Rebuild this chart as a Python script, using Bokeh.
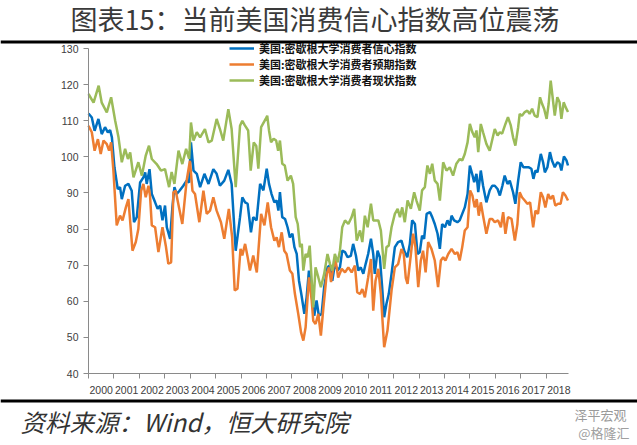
from bokeh.plotting import figure
from bokeh.models import (Range1d, FixedTicker, Label, Span, Legend,
                          LegendItem, PrintfTickFormatter)
from bokeh.embed import file_html
from bokeh.resources import INLINE

# ---------------- data (fractional year, index value) ----------------
sent_t = [2000.00, 2000.13, 2000.24, 2000.39, 2000.52, 2000.65, 2000.76, 2000.85, 2000.92,
          2001.02, 2001.15, 2001.24, 2001.31, 2001.44, 2001.57, 2001.70, 2001.79, 2001.90,
          2002.03, 2002.16, 2002.23, 2002.29, 2002.40, 2002.49, 2002.62, 2002.72, 2002.82, 2002.91,
          2003.01, 2003.08, 2003.21, 2003.30, 2003.38, 2003.47, 2003.58, 2003.73, 2003.86, 2003.96,
          2004.03, 2004.13, 2004.26, 2004.39, 2004.56, 2004.72, 2004.91,
          2005.04, 2005.17, 2005.34, 2005.50, 2005.63, 2005.79, 2005.96,
          2006.05, 2006.16, 2006.26, 2006.39, 2006.48, 2006.61, 2006.75, 2006.88,
          2007.01, 2007.10, 2007.20, 2007.31, 2007.40, 2007.47, 2007.53, 2007.62, 2007.73, 2007.83, 2007.92,
          2008.02, 2008.10, 2008.19, 2008.28, 2008.38, 2008.49, 2008.58, 2008.67, 2008.78, 2008.88, 2008.97,
          2009.06, 2009.17, 2009.27, 2009.40, 2009.49, 2009.59, 2009.69, 2009.80, 2009.89, 2009.98,
          2010.09, 2010.19, 2010.32, 2010.41, 2010.52, 2010.61, 2010.71, 2010.81, 2010.90,
          2011.00, 2011.11, 2011.20, 2011.26, 2011.37, 2011.46, 2011.55, 2011.63, 2011.72, 2011.81, 2011.92,
          2012.05, 2012.18, 2012.31, 2012.42, 2012.54, 2012.64, 2012.73, 2012.84, 2012.94,
          2013.03, 2013.12, 2013.20, 2013.30, 2013.43, 2013.52, 2013.62, 2013.73, 2013.82, 2013.91,
          2014.02, 2014.12, 2014.21, 2014.28, 2014.38, 2014.51, 2014.60, 2014.70, 2014.80, 2014.91,
          2015.00, 2015.09, 2015.17, 2015.26, 2015.33, 2015.43, 2015.52, 2015.65, 2015.78, 2015.88, 2015.98,
          2016.09, 2016.18, 2016.28, 2016.37, 2016.48, 2016.57, 2016.70, 2016.79, 2016.90,
          2017.00, 2017.11, 2017.21, 2017.32, 2017.42, 2017.50, 2017.58, 2017.66, 2017.79, 2017.88, 2017.95,
          2018.05, 2018.15, 2018.23, 2018.34, 2018.44, 2018.53, 2018.60, 2018.70, 2018.80, 2018.86]
sent_v = [112.0, 110.9, 107.2, 110.5, 106.3, 108.2, 106.8, 107.4, 105.4,
          97.1, 91.1, 91.6, 88.3, 92.0, 92.5, 90.6, 81.9, 83.3,
          92.9, 94.3, 95.7, 92.5, 96.6, 89.7, 87.4, 85.6, 86.5, 82.4,
          86.5, 80.5, 77.3, 86.0, 91.6, 89.7, 90.6, 92.0, 93.4, 92.9,
          104.0, 96.2, 95.3, 91.6, 95.3, 92.5, 96.6,
          95.3, 92.0, 93.4, 96.4, 92.5, 74.0, 83.3,
          88.8, 87.4, 87.0, 79.1, 83.3, 82.4, 92.5, 90.7,
          96.7, 92.5, 89.7, 87.4, 87.9, 85.1, 90.2, 83.3, 82.8, 80.5, 77.7,
          78.7, 75.0, 73.1, 65.7, 61.6, 56.5, 61.1, 68.5, 63.4, 56.0, 60.2,
          56.0, 56.5, 63.9, 69.4, 69.9, 65.7, 70.3, 68.5, 69.4, 74.0,
          73.6, 72.2, 72.6, 75.9, 72.6, 68.5, 69.4, 67.6, 70.3,
          73.1, 77.3, 73.1, 67.6, 74.0, 72.2, 63.9, 55.6, 59.3, 62.0, 67.6,
          75.0, 76.4, 76.8, 74.0, 72.2, 75.9, 82.4, 81.4, 73.1,
          73.6, 78.2, 77.3, 84.2, 84.7, 83.3, 81.4, 78.7, 74.5, 81.4,
          80.5, 82.4, 81.0, 83.7, 82.4, 81.9, 82.4, 84.2, 86.0, 89.7,
          97.6, 95.3, 93.0, 95.3, 90.2, 96.2, 92.0, 87.4, 90.7, 92.0, 92.0,
          91.1, 89.3, 92.0, 94.8, 92.5, 93.4, 90.2, 87.0, 93.4,
          98.5, 97.1, 97.1, 97.1, 96.7, 93.9, 96.2, 95.7, 100.8, 98.5, 95.7,
          97.1, 101.3, 99.0, 97.1, 98.5, 98.1, 96.2, 100.1, 99.0, 97.6]

expt_t = [2000.00, 2000.13, 2000.24, 2000.37, 2000.48, 2000.59, 2000.72, 2000.81, 2000.89, 2000.98,
          2001.11, 2001.24, 2001.34, 2001.47, 2001.57, 2001.73, 2001.86, 2001.96,
          2002.07, 2002.16, 2002.25, 2002.36, 2002.42, 2002.49, 2002.62, 2002.75, 2002.91,
          2003.04, 2003.14, 2003.25, 2003.34, 2003.43, 2003.56, 2003.69, 2003.86, 2003.99,
          2004.09, 2004.19, 2004.36, 2004.52, 2004.65, 2004.78, 2004.91,
          2005.04, 2005.21, 2005.34, 2005.52, 2005.65, 2005.75, 2005.86, 2005.98,
          2006.05, 2006.16, 2006.26, 2006.35, 2006.48, 2006.62, 2006.79, 2006.92,
          2007.05, 2007.18, 2007.31, 2007.40, 2007.49, 2007.60, 2007.70, 2007.79, 2007.92,
          2008.02, 2008.12, 2008.25, 2008.36, 2008.45, 2008.54, 2008.67, 2008.78, 2008.84, 2008.93,
          2009.04, 2009.14, 2009.24, 2009.37, 2009.46, 2009.54, 2009.63, 2009.72, 2009.82, 2009.96,
          2010.09, 2010.22, 2010.35, 2010.48, 2010.57, 2010.68, 2010.77, 2010.87,
          2011.00, 2011.11, 2011.20, 2011.29, 2011.40, 2011.50, 2011.63, 2011.76, 2011.92,
          2012.05, 2012.18, 2012.31, 2012.40, 2012.48, 2012.55, 2012.64, 2012.77, 2012.86, 2012.97,
          2013.07, 2013.16, 2013.26, 2013.36, 2013.49, 2013.62, 2013.75, 2013.86, 2013.95,
          2014.04, 2014.15, 2014.28, 2014.41, 2014.51, 2014.60, 2014.70, 2014.80, 2014.91,
          2015.01, 2015.10, 2015.19, 2015.27, 2015.35, 2015.43, 2015.52, 2015.65, 2015.78, 2015.88, 2015.98,
          2016.11, 2016.22, 2016.31, 2016.40, 2016.50, 2016.64, 2016.77, 2016.87, 2016.96,
          2017.05, 2017.16, 2017.26, 2017.37, 2017.49, 2017.58, 2017.68, 2017.79, 2017.88, 2017.97,
          2018.08, 2018.17, 2018.27, 2018.36, 2018.47, 2018.57, 2018.66, 2018.76, 2018.86]
expt_v = [108.6, 106.8, 101.7, 104.9, 100.8, 104.5, 103.5, 101.7, 104.0, 96.2,
          81.0, 83.7, 82.4, 86.0, 88.3, 74.0, 76.4, 80.0,
          90.6, 92.5, 88.8, 92.0, 89.2, 81.0, 80.5, 73.6, 80.5,
          75.4, 70.4, 70.8, 90.2, 90.6, 86.0, 81.4, 93.4, 98.9,
          90.6, 89.7, 81.9, 90.6, 84.2, 85.1, 88.8,
          85.1, 81.9, 77.3, 85.6, 77.8, 63.0, 63.5, 74.5,
          72.7, 75.9, 72.2, 68.5, 72.7, 68.0, 84.2, 81.0,
          87.4, 80.5, 76.8, 77.7, 75.0, 79.1, 74.0, 73.1, 68.5,
          67.6, 62.0, 56.5, 51.4, 49.1, 52.8, 66.6, 60.2, 54.6, 53.7,
          56.5, 50.5, 58.3, 67.6, 69.4, 65.3, 69.4, 71.3, 66.6, 69.0,
          68.0, 69.4, 68.0, 69.9, 62.5, 62.0, 63.4, 61.1,
          66.6, 71.7, 57.4, 65.7, 69.0, 62.0, 47.3, 51.9, 63.0,
          69.4, 70.3, 74.5, 73.1, 66.5, 64.8, 70.4, 78.7, 75.0, 63.9,
          71.3, 74.0, 68.0, 76.4, 74.5, 71.3, 63.9, 71.3, 72.2,
          71.3, 73.1, 74.5, 73.1, 73.6, 71.3, 75.0, 79.6, 80.5,
          90.7, 89.3, 86.0, 88.3, 83.7, 87.4, 83.7, 78.7, 82.8, 82.8, 81.9,
          82.4, 80.5, 84.7, 78.7, 83.3, 82.8, 76.8, 81.4, 90.2,
          88.8, 87.9, 87.0, 87.4, 80.5, 85.1, 84.2, 90.2, 88.8, 86.0,
          89.7, 88.3, 89.3, 86.5, 87.0, 87.0, 90.2, 89.3, 87.9]

curr_t = [2000.00, 2000.20, 2000.40, 2000.52, 2000.72, 2000.89,
          2001.05, 2001.18, 2001.31, 2001.44, 2001.55, 2001.64, 2001.77, 2001.96,
          2002.10, 2002.25, 2002.38, 2002.49, 2002.68, 2002.85,
          2003.01, 2003.17, 2003.27, 2003.38, 2003.54, 2003.69, 2003.84, 2003.96,
          2004.03, 2004.13, 2004.26, 2004.39, 2004.58, 2004.72, 2004.85,
          2005.04, 2005.17, 2005.30, 2005.50, 2005.63, 2005.79, 2005.96,
          2006.05, 2006.15, 2006.28, 2006.38, 2006.50, 2006.60, 2006.68, 2006.79, 2006.97,
          2007.03, 2007.10, 2007.18, 2007.28, 2007.38, 2007.46, 2007.53, 2007.62, 2007.72, 2007.83, 2007.96,
          2008.05, 2008.15, 2008.23, 2008.32, 2008.39, 2008.45, 2008.54, 2008.62, 2008.70, 2008.78, 2008.84, 2008.93,
          2009.04, 2009.14, 2009.27, 2009.40, 2009.50, 2009.59, 2009.69, 2009.80, 2009.89, 2009.98,
          2010.09, 2010.22, 2010.35, 2010.45, 2010.55, 2010.68, 2010.77, 2010.87, 2010.98,
          2011.11, 2011.20, 2011.29, 2011.40, 2011.50, 2011.63, 2011.72, 2011.81, 2011.92,
          2012.05, 2012.16, 2012.25, 2012.34, 2012.44, 2012.55, 2012.68, 2012.81, 2012.90,
          2013.03, 2013.12, 2013.23, 2013.33, 2013.43, 2013.52, 2013.62, 2013.73, 2013.82, 2013.95,
          2014.08, 2014.21, 2014.34, 2014.47, 2014.60, 2014.70, 2014.80, 2014.91,
          2015.00, 2015.10, 2015.19, 2015.26, 2015.33, 2015.43, 2015.52, 2015.65, 2015.78, 2015.89, 2015.98,
          2016.09, 2016.18, 2016.27, 2016.40, 2016.50, 2016.61, 2016.70, 2016.79, 2016.90, 2016.96,
          2017.05, 2017.16, 2017.26, 2017.35, 2017.45, 2017.55, 2017.66, 2017.76, 2017.84, 2017.92,
          2018.02, 2018.10, 2018.18, 2018.27, 2018.34, 2018.44, 2018.53, 2018.60, 2018.69, 2018.77, 2018.86]
curr_v = [117.4, 115.0, 119.7, 115.0, 112.3, 116.5,
          110.0, 105.4, 98.5, 102.2, 99.4, 101.2, 94.3, 98.5,
          94.8, 100.3, 103.1, 99.4, 98.0, 96.2,
          96.6, 91.6, 95.8, 92.5, 101.7, 98.0, 102.2, 99.4,
          109.5, 104.5, 106.8, 105.4, 107.7, 104.0, 104.5,
          110.5, 107.7, 104.5, 113.2, 107.7, 91.6, 108.6,
          110.0, 108.7, 107.3, 96.2, 104.0, 103.0, 96.7, 108.2, 110.5,
          111.4, 107.3, 104.0, 105.0, 104.5, 101.7, 104.5, 98.1, 97.6, 93.4, 94.8,
          92.5, 83.3, 81.4, 75.0, 75.9, 68.5, 73.1, 72.2, 75.4, 65.7, 58.3, 69.4,
          66.6, 63.9, 67.6, 73.1, 70.3, 68.5, 73.1, 70.8, 74.0, 80.5,
          82.4, 81.4, 83.3, 85.6, 76.8, 79.6, 76.4, 83.7, 80.5,
          87.0, 82.4, 82.4, 82.4, 79.6, 69.0, 75.0, 75.4, 80.5,
          84.2, 85.6, 83.3, 86.0, 81.9, 87.9, 85.6, 90.2, 87.9,
          85.1, 90.7, 91.6, 97.6, 95.3, 98.1, 93.4, 92.5, 87.9, 98.5,
          96.2, 97.1, 94.8, 98.1, 99.4, 99.0, 100.8, 104.0,
          109.1, 106.8, 105.4, 107.3, 101.3, 109.1, 106.8, 103.6, 101.7, 105.0, 107.7,
          105.9, 106.8, 106.4, 109.1, 111.0, 108.7, 105.4, 103.1, 108.2, 111.9,
          111.4, 112.4, 112.8, 111.9, 113.3, 111.4, 111.0, 116.5, 114.7, 113.3,
          110.5, 114.7, 121.1, 115.6, 111.4, 116.5, 115.1, 110.5, 115.1, 113.7, 112.4]

years = list(range(2000, 2019))
y_ticks = [40, 50, 60, 70, 80, 90, 100, 110, 120, 130]
x_lo, x_hi = 2000.0, 2018.88
y_lo, y_hi = 40, 130

series_names = ["美国:密歇根大学消费者信心指数",
                "美国:密歇根大学消费者预期指数",
                "美国:密歇根大学消费者现状指数"]
title_text = "图表15：当前美国消费信心指数高位震荡"
source_text = "资料来源：Wind，恒大研究院"
mark_line1 = "泽平宏观"
mark_line2 = "@格隆汇"

# ---------------- page geometry (pixels) ----------------
W, H = 637, 445
AX_L, AX_R, AX_T, AX_B = 88, 568, 48, 373      # axes rectangle inside the page
kx = (AX_R - AX_L) / (x_hi - x_lo)
ky = (AX_B - AX_T) / (y_hi - y_lo)
x_range = Range1d(x_lo - AX_L / kx, x_hi + (W - AX_R) / kx)
y_range = Range1d(y_lo - (H - AX_B) / ky, y_hi + AX_T / ky)

CJK = "Noto Sans CJK SC"

p = figure(width=W, height=H, output_backend="svg", toolbar_location=None, title=None,
           x_range=x_range, y_range=y_range, min_border=0)
p.outline_line_color = None
p.xgrid.visible = False
p.ygrid.visible = False
p.background_fill_color = "white"
p.border_fill_color = "white"

# axes pinned to the axes rectangle
mids = [y + 0.5 for y in years]
p.xaxis.fixed_location = y_lo
p.xaxis.bounds = (x_lo, x_hi)
p.xaxis.ticker = FixedTicker(ticks=mids, minor_ticks=years)
p.xaxis.formatter = PrintfTickFormatter(format="%d")
p.xaxis.major_tick_out = 0
p.xaxis.major_tick_in = 0
p.xaxis.minor_tick_out = 5
p.xaxis.minor_tick_in = 0
p.xaxis.major_label_standoff = 7

p.yaxis.fixed_location = x_lo
p.yaxis.bounds = (y_lo, y_hi)
p.yaxis.ticker = FixedTicker(ticks=y_ticks, minor_ticks=[])
p.yaxis.major_tick_out = 5
p.yaxis.major_tick_in = 0
p.yaxis.major_label_standoff = 5

for ax in (p.xaxis, p.yaxis):
    ax.axis_line_color = "#8a8a8a"
    ax.major_tick_line_color = "#8a8a8a"
    ax.minor_tick_line_color = "#8a8a8a"
    ax.major_label_text_font = "Liberation Sans"
    ax.major_label_text_font_size = "10.5px"
    ax.major_label_text_color = "#404040"

colors = ["#0070C0", "#ED7D31", "#9BBB59"]
renderers = [p.line(sent_t, sent_v, line_color=colors[0], line_width=2.5),
             p.line(expt_t, expt_v, line_color=colors[1], line_width=2.5),
             p.line(curr_t, curr_v, line_color=colors[2], line_width=2.5)]

# one legend per entry so the rows can sit close together
row_centers = [48, 64, 80]
for name, r, cy in zip(series_names, renderers, row_centers):
    leg = Legend(items=[LegendItem(label=name, renderers=[r])],
                 location=(229, H - cy - 10), orientation="vertical")
    leg.label_text_font = CJK
    leg.label_text_font_size = "11px"
    leg.label_text_font_style = "bold"
    leg.label_text_color = "#111111"
    leg.label_height = 20
    leg.glyph_height = 20
    leg.glyph_width = 25
    leg.label_standoff = 5
    leg.spacing = 0
    leg.padding = 0
    leg.margin = 0
    leg.border_line_color = None
    leg.background_fill_alpha = 0
    p.add_layout(leg, "center")

# header / footer (screen units: x from left, y from bottom of page)
p.add_layout(Label(x=70, y=H - 18, x_units="screen", y_units="screen", text=title_text,
                   text_font=CJK, text_font_size="27px", text_color="#3a3a3a",
                   text_baseline="middle", text_align="left"))
p.add_layout(Span(location=H - 41.5, location_units="screen", dimension="width",
                  line_color="black", line_width=3))
p.add_layout(Span(location=H - 400.5, location_units="screen", dimension="width",
                  line_color="black", line_width=3))
p.add_layout(Label(x=20, y=H - 421, x_units="screen", y_units="screen", text=source_text,
                   text_font=CJK, text_font_size="24.5px", text_font_style="italic",
                   text_color="#333333", text_baseline="middle", text_align="left"))
p.add_layout(Label(x=574, y=H - 414, x_units="screen", y_units="screen", text=mark_line1,
                   text_font=CJK, text_font_size="13px", text_color="#9a9a9a",
                   text_baseline="middle", text_align="left"))
p.add_layout(Label(x=629, y=H - 432, x_units="screen", y_units="screen", text=mark_line2,
                   text_font=CJK, text_font_size="13px", text_color="#a0a0a0",
                   text_baseline="middle", text_align="right"))

open("out.html", "w").write(file_html(p, INLINE))
